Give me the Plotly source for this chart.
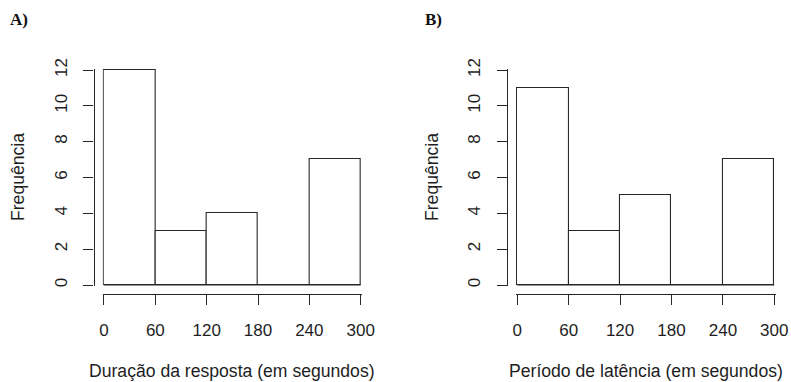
import plotly.graph_objects as go

# Histogram bins (seconds) and counts for the two panels
bin_edges = [0, 60, 120, 180, 240, 300]
counts_duracao = [12, 3, 4, 0, 7]
counts_latencia = [11, 3, 5, 0, 7]
x_ticks = [0, 60, 120, 180, 240, 300]
y_ticks = [0, 2, 4, 6, 8, 10, 12]

W, H = 791, 382
LINE = "#262626"
TXT = "#1e1e1e"
FONT = "Liberation Sans, Arial, sans-serif"
FS_TICK = 17
FS_TITLE = 17.6

centers = [(a + b) / 2 for a, b in zip(bin_edges[:-1], bin_edges[1:])]
widths = [b - a for a, b in zip(bin_edges[:-1], bin_edges[1:])]


def px_x(p):
    return p / W


def px_y(p):
    return 1 - p / H


fig = go.Figure()

panels = [
    dict(counts=counts_duracao, xa="x", ya="y", left=104.0, right=360.7, yline=93.5,
         xtitle="Duração da resposta (em segundos)", tag="A)", tagx=8, ytitx=18),
    dict(counts=counts_latencia, xa="x2", ya="y2", left=517.3, right=774.3, yline=507.3,
         xtitle="Período de latência (em segundos)", tag="B)", tagx=423, ytitx=432),
]

y0_px, y12_px = 285.0, 70.0
xline_px = 294.3
ypad = 0.05
xpad = 1.5
yunit = (y0_px - y12_px) / 12.0

for i, p in enumerate(panels):
    fig.add_trace(go.Bar(
        x=centers, y=p["counts"], width=widths,
        marker=dict(color="white", line=dict(color=LINE, width=1.1)),
        xaxis=p["xa"], yaxis=p["ya"], showlegend=False, hoverinfo="x+y",
    ))
    # baseline across the bins (visible where a bin is empty)
    fig.add_trace(go.Scatter(
        x=[bin_edges[0], bin_edges[-1]], y=[0, 0], mode="lines",
        line=dict(color=LINE, width=1.1), xaxis=p["xa"], yaxis=p["ya"],
        showlegend=False, hoverinfo="skip",
    ))

    xunit = (p["right"] - p["left"]) / (bin_edges[-1] - bin_edges[0])
    xdom = [px_x(p["left"] - xpad * xunit), px_x(p["right"] + xpad * xunit)]
    ydom = [px_y(y0_px + ypad * yunit), px_y(y12_px - ypad * yunit)]
    sfx = "" if i == 0 else "2"

    fig.layout["xaxis" + sfx] = dict(
        domain=xdom, range=[bin_edges[0] - xpad, bin_edges[-1] + xpad],
        anchor="free", position=px_y(xline_px), automargin=False,
        tickvals=x_ticks, ticktext=[str(v) for v in x_ticks],
        ticks="outside", ticklen=10, tickwidth=1.1, tickcolor=LINE,
        showline=True, linecolor=LINE, linewidth=1.1,
        showgrid=False, zeroline=False,
        tickfont=dict(family=FONT, size=FS_TICK, color=TXT),
        ticklabelstandoff=10,
    )
    fig.layout["yaxis" + sfx] = dict(
        domain=ydom, range=[-ypad, 12 + ypad],
        anchor="free", position=px_x(p["yline"]), automargin=False,
        tickvals=y_ticks, ticktext=[str(v) for v in y_ticks],
        ticks="outside", ticklen=10, tickwidth=1.1, tickcolor=LINE,
        showline=True, linecolor=LINE, linewidth=1.1,
        showgrid=False, zeroline=False, tickangle=-90,
        tickfont=dict(family=FONT, size=FS_TICK, color=TXT),
        ticklabelstandoff=10,
    )

    fig.add_annotation(
        x=px_x((p["left"] + p["right"]) / 2), y=px_y(371), xref="paper", yref="paper",
        text=p["xtitle"], showarrow=False, xanchor="center", yanchor="middle",
        font=dict(family=FONT, size=FS_TITLE, color=TXT),
    )
    fig.add_annotation(
        x=px_x(p["ytitx"]), y=px_y(177), xref="paper", yref="paper",
        text="Frequência", textangle=-90, showarrow=False,
        xanchor="center", yanchor="middle",
        font=dict(family=FONT, size=FS_TITLE, color=TXT),
    )
    fig.add_annotation(
        x=px_x(p["tagx"]), y=px_y(20), xref="paper", yref="paper",
        text="<b>" + p["tag"] + "</b>", showarrow=False,
        xanchor="left", yanchor="middle",
        font=dict(family="Liberation Serif, Times New Roman, serif", size=17, color="#111111"),
    )

fig.update_layout(
    width=W, height=H,
    margin=dict(l=0, r=0, t=0, b=0, pad=0, autoexpand=False),
    paper_bgcolor="white", plot_bgcolor="white",
    bargap=0,
)

# keep the page flush with the figure (no default body margin / scrollbars)
fig.write_html(
    "out.html",
    post_script="document.body.style.margin='0';document.body.style.overflow='hidden';",
)
